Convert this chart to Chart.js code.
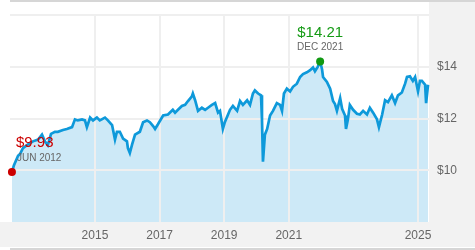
<!DOCTYPE html>
<html>
<head>
<meta charset="utf-8">
<script src="https://cdn.jsdelivr.net/npm/chart.js@4"></script>
<style>
html,body{margin:0;padding:0;background:#fff;}
#wrap{width:475px;height:250px;position:relative;}
</style>
</head>
<body>
<div id="wrap"><canvas id="c" width="475" height="250"></canvas></div>
<script>
// Time (decimal years) and value ($)
const dates = [
2012.43,2012.49,2012.62,2012.68,2012.77,2012.93,2013.08,2013.24,2013.36,2013.45,
2013.54,2013.64,2013.76,2013.85,2014.01,2014.13,2014.29,2014.38,2014.47,2014.60,
2014.69,2014.75,2014.85,2014.94,2015.06,2015.15,2015.31,2015.40,2015.53,2015.62,
2015.68,2015.77,2015.87,2015.99,2016.02,2016.08,2016.15,2016.24,2016.39,2016.49,
2016.61,2016.70,2016.80,2016.86,2016.95,2017.11,2017.26,2017.41,2017.48,2017.57,
2017.69,2017.79,2017.88,2018.00,2018.03,2018.10,2018.19,2018.31,2018.41,2018.50,
2018.62,2018.72,2018.81,2018.87,2018.96,2019.02,2019.18,2019.27,2019.40,2019.49,
2019.58,2019.71,2019.80,2019.89,2019.95,2020.05,2020.14,2020.17,2020.20,2020.26,
2020.33,2020.42,2020.51,2020.63,2020.73,2020.79,2020.85,2020.94,2021.04,2021.13,
2021.25,2021.35,2021.44,2021.56,2021.66,2021.75,2021.81,2021.90,2021.97,2022.03,
2022.06,2022.18,2022.28,2022.37,2022.43,2022.49,2022.59,2022.65,2022.74,2022.77,
2022.83,2022.89,2022.99,2023.11,2023.20,2023.30,2023.42,2023.51,2023.61,2023.73,
2023.79,2023.89,2023.98,2024.07,2024.19,2024.29,2024.38,2024.50,2024.60,2024.66,
2024.75,2024.84,2024.91,2025.00,2025.06,2025.12,2025.22,2025.25,2025.31
];
const values = [
9.93,10.19,10.56,10.63,10.86,11.00,11.12,11.19,11.38,11.12,
10.97,11.41,11.49,11.49,11.56,11.60,11.67,11.97,11.93,11.97,
11.93,11.67,12.04,11.93,12.04,11.93,12.04,11.93,11.75,11.19,
11.49,11.49,11.23,11.12,10.86,10.67,11.00,11.38,11.49,11.86,
11.93,11.86,11.71,11.60,11.78,12.12,12.16,12.34,12.23,12.34,
12.49,12.53,12.68,12.86,12.97,12.71,12.30,12.42,12.34,12.42,
12.53,12.60,12.23,12.30,11.60,11.86,12.34,12.49,12.30,12.68,
12.53,12.71,12.53,12.97,13.09,12.97,12.90,11.97,10.33,11.38,
11.60,12.12,12.30,12.60,12.53,12.30,12.97,13.16,13.05,13.23,
13.35,13.61,13.72,13.79,13.87,13.98,13.83,14.01,14.21,13.90,
13.61,13.42,13.16,12.68,12.56,12.30,12.79,12.38,12.12,11.60,
11.97,12.53,12.34,12.19,12.16,12.30,12.16,12.42,12.23,11.97,
11.67,12.16,12.71,12.64,12.90,12.60,12.90,13.01,13.35,13.61,
13.64,13.46,13.61,13.05,13.46,13.46,13.31,12.60,13.31
];
const xTickYears = [2015, 2017, 2019, 2021, 2025];
const yTickValues = [10, 12, 14];
const startLabel = ['$9.93', 'JUN 2012'];
const peakLabel = ['$14.21', 'DEC 2021'];

const peakIdx = values.indexOf(Math.max(...values));
const FONT = '"Liberation Sans", Arial, sans-serif';

const bgPlugin = {
  id: 'bg',
  beforeDraw(chart) {
    const ctx = chart.ctx, a = chart.chartArea;
    ctx.save();
    ctx.fillStyle = '#ffffff';
    ctx.fillRect(0, 0, chart.width, chart.height);
    ctx.fillStyle = '#f2f2f2';
    ctx.fillRect(a.right, 2, chart.width - a.right, a.bottom - 2);
    ctx.fillRect(0, a.bottom, chart.width, 25);
    ctx.fillStyle = '#d6d6d6';
    ctx.fillRect(a.left, 0, chart.width - a.left, 2);
    ctx.fillRect(a.left, 248, chart.width - a.left, 2);
    ctx.restore();
  }
};

const gridPlugin = {
  id: 'gridUnder',
  beforeDatasetDraw(chart) {
    const ctx = chart.ctx, a = chart.chartArea;
    const xs = chart.scales.x, ys = chart.scales.y;
    ctx.save();
    ctx.strokeStyle = '#efefef';
    ctx.lineWidth = 2;
    ctx.beginPath();
    [10, 12, 14, 16].forEach(v => {
      const y = Math.round(ys.getPixelForValue(v));
      ctx.moveTo(a.left, y); ctx.lineTo(a.right, y);
    });
    xTickYears.forEach(v => {
      const x = Math.round(xs.getPixelForValue(v));
      ctx.moveTo(x, a.top); ctx.lineTo(x, a.bottom);
    });
    ctx.stroke();
    ctx.restore();
  }
};

const annPlugin = {
  id: 'ann',
  afterDatasetsDraw(chart) {
    const ctx = chart.ctx;
    const meta = chart.getDatasetMeta(0);
    const p0 = meta.data[0], pk = meta.data[peakIdx];
    ctx.save();
    ctx.textBaseline = 'alphabetic';
    ctx.textAlign = 'left';
    ctx.fillStyle = '#cc0000';
    ctx.font = '15px ' + FONT;
    ctx.fillText(startLabel[0], p0.x + 4, p0.y - 25);
    ctx.fillStyle = '#666666';
    ctx.font = '10px ' + FONT;
    ctx.fillText(startLabel[1], p0.x + 5, p0.y - 11);
    ctx.textAlign = 'center';
    ctx.fillStyle = '#169b16';
    ctx.font = '15px ' + FONT;
    ctx.fillText(peakLabel[0], pk.x, pk.y - 24);
    ctx.fillStyle = '#666666';
    ctx.font = '10px ' + FONT;
    ctx.fillText(peakLabel[1], pk.x, pk.y - 11);
    ctx.restore();
  }
};

new Chart(document.getElementById('c'), {
  type: 'line',
  data: {
    datasets: [{
      data: dates.map((d, i) => ({ x: d, y: values[i] })),
      borderColor: '#0e99da',
      backgroundColor: '#cde9f7',
      borderWidth: 2.7,
      fill: 'start',
      tension: 0,
      clip: false,
      pointRadius: c => (c.dataIndex === 0 || c.dataIndex === peakIdx) ? 4 : 0,
      pointBackgroundColor: c => c.dataIndex === 0 ? '#cc0000' : '#119911',
      pointBorderWidth: 0,
      pointHoverRadius: 0
    }]
  },
  options: {
    responsive: false,
    animation: false,
    events: [],
    layout: { padding: { left: 10, top: 10, right: 0, bottom: 3 } },
    plugins: { legend: { display: false }, tooltip: { enabled: false } },
    scales: {
      x: {
        type: 'linear',
        min: 2012.37,
        max: 2025.34,
        grid: { display: false, drawTicks: false },
        border: { display: false },
        afterBuildTicks: s => { s.ticks = xTickYears.map(v => ({ value: v })); },
        afterFit: s => { s.height = 25; },
        ticks: {
          autoSkip: false,
          maxRotation: 0,
          padding: 6,
          color: '#666666',
          font: { family: FONT, size: 12 },
          callback: v => String(v)
        }
      },
      y: {
        position: 'right',
        min: 8,
        max: 16,
        grid: { display: false, drawTicks: false },
        border: { display: false },
        afterBuildTicks: s => { s.ticks = yTickValues.map(v => ({ value: v })); },
        afterFit: s => { s.width = 46; },
        ticks: {
          padding: 8,
          color: '#666666',
          font: { family: FONT, size: 12 },
          callback: v => '$' + v
        }
      }
    }
  },
  plugins: [bgPlugin, gridPlugin, annPlugin]
});
</script>
</body>
</html>
